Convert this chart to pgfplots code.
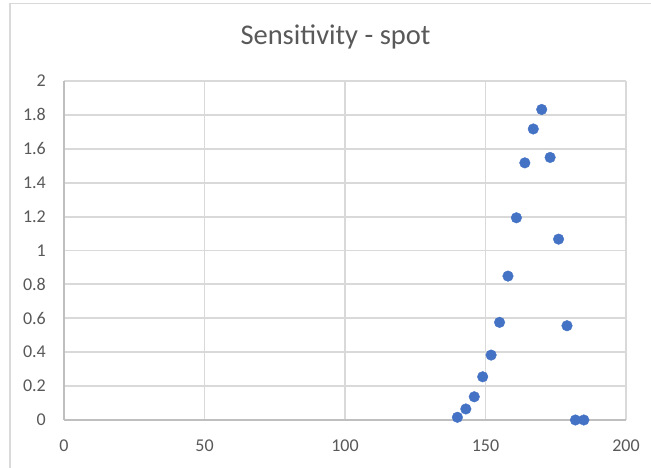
\documentclass[border=0pt]{standalone}
\usepackage{fontspec}
\setmainfont{Carlito}
\usepackage{pgfplots}
\pgfplotsset{compat=1.18}
\definecolor{txt}{HTML}{595959}
\definecolor{grd}{HTML}{D9D9D9}
\definecolor{axl}{HTML}{BFBFBF}
\definecolor{dot}{HTML}{4472C4}
\begin{document}
\begin{tikzpicture}[x=1pt,y=1pt]
\path[use as bounding box] (0,0) rectangle (651,468);
\fill[white] (0,0) rectangle (651,468);
\draw[grd, line width=1.8pt] (10,0) -- (10,464.5) -- (651,464.5);
\node[anchor=base, text=txt, font=\fontsize{28.5}{34}\selectfont, inner sep=0pt] at (335.5,423) {Sensitivity - spot};
\begin{axis}[
  at={(64pt,48pt)}, anchor=south west,
  scale only axis, width=562pt, height=339pt,
  xmin=0, xmax=200, ymin=0, ymax=2,
  xtick={0,50,100,150,200},
  xticklabels={0,50,100,150,200},
  ytick={0,0.2,0.4,0.6,0.8,1,1.2,1.4,1.6,1.8,2},
  yticklabels={0,0.2,0.4,0.6,0.8,1,1.2,1.4,1.6,1.8,2},
  grid=major,
  major grid style={grd, line width=1.9pt},
  axis line style={axl, line width=1.9pt},
  axis x line*=bottom, axis y line*=left,
  major tick length=0pt,
  tick label style={text=txt, font=\fontsize{18}{21}\selectfont, inner sep=0pt},
  xticklabel style={anchor=base, yshift=-32pt},
  yticklabel style={anchor=east, xshift=-18pt},
  clip=false,
]
\addplot[only marks, mark=*, mark size=5.3pt, draw=dot, fill=dot, mark options={draw=dot, fill=dot}] coordinates {
(140,0.016) (143,0.065) (146,0.137) (149,0.255) (152,0.383) (155,0.576)
(158,0.849) (161,1.193) (164,1.517) (167,1.717) (170,1.832) (173,1.549)
(176,1.067) (179,0.556) (182,0) (185,0)
};
\end{axis}
\end{tikzpicture}
\end{document}
